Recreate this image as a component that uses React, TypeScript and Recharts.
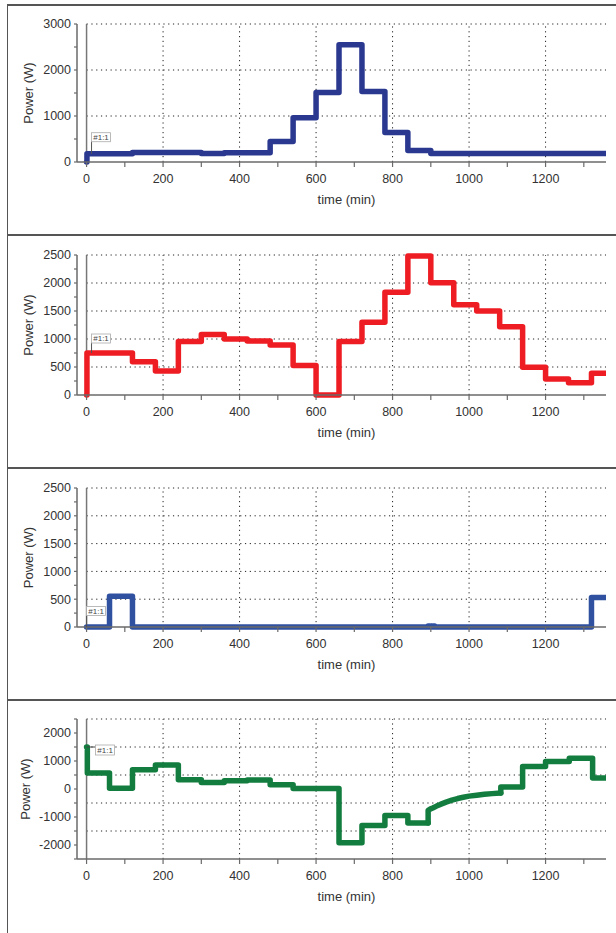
import React from 'react';
import { LineChart, Line, XAxis, YAxis, ReferenceLine, ReferenceDot } from 'recharts';

// ---------- shared axis data ----------
const xTicks = [0, 100, 200, 300, 400, 500, 600, 700, 800, 900, 1000, 1100, 1200, 1300];
const xGridValues = [200, 400, 600, 800, 1000, 1200];
const X_MIN = -25;
const X_MAX = 1358;

// ---------- panel 1 (navy) ----------
const p1Time = [0, 1, 120, 300, 360, 480, 540, 600, 660, 720, 780, 840, 900, 1358];
const p1Power = [0, 180, 205, 185, 200, 445, 960, 1510, 2550, 1530, 640, 250, 185, 185];
const p1Ticks = [0, 500, 1000, 1500, 2000, 2500, 3000];
const p1Grid = [1000, 2000, 3000];

// ---------- panel 2 (red) ----------
const p2Time = [0, 1, 120, 180, 240, 300, 360, 420, 480, 540, 600, 660, 720, 780, 840, 900, 960, 1020, 1080, 1140, 1200, 1260, 1320, 1358];
const p2Power = [0, 750, 595, 430, 955, 1080, 1000, 965, 895, 525, 0, 955, 1300, 1835, 2480, 2005, 1610, 1500, 1220, 495, 285, 220, 390, 390];
const p2Ticks = [0, 250, 500, 750, 1000, 1250, 1500, 1750, 2000, 2250, 2500];
const p2Grid = [500, 1000, 1500, 2000, 2500];

// ---------- panel 3 (blue) ----------
const p3Time = [0, 60, 120, 890, 893, 898, 905, 910, 1320, 1358];
const p3Power = [0, 555, 0, 0, 20, 0, 18, 0, 530, 530];
const p3Ticks = [0, 250, 500, 750, 1000, 1250, 1500, 1750, 2000, 2250, 2500];
const p3Grid = [500, 1000, 1500, 2000, 2500];

// ---------- panel 4 (green) ----------
const p4StepTime = [0, 2, 60, 120, 180, 240, 300, 360, 420, 480, 540, 660, 720, 780, 840, 893];
const p4StepPower = [1500, 570, 30, 685, 860, 330, 235, 295, 320, 150, 20, -1920, -1305, -950, -1210, -1210];
const p4CurveTime = [893, 893, 898, 905, 915, 925, 940, 955, 970, 985, 1000, 1020, 1040, 1060, 1083];
const p4CurvePower = [-1210, -760, -720, -680, -610, -550, -470, -400, -340, -295, -255, -220, -190, -165, -140];
const p4EndTime = [1083, 1083, 1140, 1200, 1262, 1323, 1358];
const p4EndPower = [-140, 70, 805, 980, 1100, 390, 390];
const p4Ticks = [-2500, -2000, -1500, -1000, -500, 0, 500, 1000, 1500, 2000, 2500];
const p4Grid = [2500, 1500, 500, -500, -1500];

const rows = (t: number[], p: number[]) => t.map((v, i) => ({ t: v, p: p[i] }));

const FONT = '"Liberation Sans", Arial, Helvetica, sans-serif';
const AXIS = '#6a6a6a';
const TXT = '#333';

const TagShape = (props: any) => {
  const { cx, cy, gap, side } = props;
  if (cx == null || cy == null) return null;
  if (side) {
    return (
      <g>
        <line x1={cx} y1={cy} x2={cx + 9} y2={cy} stroke="#444" strokeWidth={1} />
        <rect x={cx + 9} y={cy - 2} width={19} height={10} fill="#fff" stroke="#aaa" strokeWidth={0.8} />
        <text x={cx + 18.5} y={cy + 6} fontSize={8} textAnchor="middle" fill="#444">#1:1</text>
      </g>
    );
  }
  return (
    <g>
      <line x1={cx} y1={cy} x2={cx} y2={cy - gap} stroke="#555" strokeWidth={1} />
      <rect x={cx} y={cy - gap - 9} width={19} height={9} fill="#fff" stroke="#aaa" strokeWidth={0.8} />
      <text x={cx + 9.5} y={cy - gap - 1.8} fontSize={8} textAnchor="middle" fill="#444">#1:1</text>
    </g>
  );
};

const XLabel = (props: any) => {
  const vb = props.viewBox || {};
  return (
    <text
      x={vb.x + vb.width / 2 + 5}
      y={vb.y + vb.height - 8}
      textAnchor="middle"
      fill={TXT}
      fontSize={13}
    >
      time (min)
    </text>
  );
};

type Series = { data: { t: number; p: number }[]; type: 'stepAfter' | 'linear' };

type PanelProps = {
  top: number;
  marginTop: number;
  plotHeight: number;
  yDomain: [number, number];
  yTicks: number[];
  labelEvery: number;
  grid: number[];
  series: Series[];
  color: string;
  tag: { x: number; y: number; gap?: number; side?: boolean };
  yLabelX: number;
};

const Panel = (pp: PanelProps) => {
  const height = pp.marginTop + pp.plotHeight + 50;
  return (
    <div style={{ position: 'absolute', left: 0, top: pp.top, width: 616, height }}>
      <LineChart
        width={616}
        height={height}
        margin={{ top: pp.marginTop, right: 10, bottom: 0, left: 0 }}
      >
        <XAxis
          type="number"
          dataKey="t"
          domain={[X_MIN, X_MAX]}
          allowDataOverflow
          ticks={xTicks}
          interval={0}
          height={50}
          tickSize={5}
          tickMargin={7}
          tickFormatter={(v: number) => (v % 200 === 0 ? String(v) : '')}
          tick={{ fill: TXT, fontSize: 12.5 }}
          stroke={AXIS}
          axisLine={{ stroke: AXIS, strokeWidth: 1.5 }}
          tickLine={{ stroke: AXIS, strokeWidth: 1.2 }}
          label={<XLabel />}
        />
        <YAxis
          type="number"
          dataKey="p"
          domain={pp.yDomain}
          ticks={pp.yTicks}
          interval={0}
          width={77}
          tickSize={3}
          tickMargin={3}
          tickFormatter={(v: number) => (v % pp.labelEvery === 0 ? String(v) : '')}
          tick={{ fill: TXT, fontSize: 12.5 }}
          axisLine={{ stroke: AXIS, strokeWidth: 1.5 }}
          tickLine={{ stroke: AXIS, strokeWidth: 1.2 }}
          label={{
            value: 'Power (W)',
            angle: -90,
            position: 'insideLeft',
            offset: pp.yLabelX,
            fill: TXT,
            fontSize: 13,
            style: { textAnchor: 'middle' },
          }}
        />
        {xGridValues.map((v) => (
          <ReferenceLine key={'vx' + v} x={v} stroke="#222" strokeWidth={1} strokeDasharray="1.2 3.6" />
        ))}
        {pp.grid.map((v) => (
          <ReferenceLine
            key={'hy' + v}
            segment={[{ x: 0, y: v }, { x: X_MAX, y: v }]}
            stroke="#222"
            strokeWidth={1}
            strokeDasharray="1.2 3.6"
          />
        ))}
        <ReferenceLine x={0} stroke="#777" strokeWidth={1.5} />
        {pp.series.map((s, i) => (
          <Line
            key={i}
            data={s.data}
            dataKey="p"
            type={s.type}
            stroke={pp.color}
            strokeWidth={5.5}
            strokeLinecap="round"
            strokeLinejoin="round"
            dot={false}
            activeDot={false}
            isAnimationActive={false}
          />
        ))}
        <ReferenceDot
          x={pp.tag.x}
          y={pp.tag.y}
          r={0}
          shape={(p: any) => <TagShape {...p} gap={pp.tag.gap} side={pp.tag.side} />}
        />
      </LineChart>
    </div>
  );
};

const frameStyle = (top: number, height: number): React.CSSProperties => ({
  position: 'absolute',
  left: 7,
  top,
  width: 640,
  height,
  borderTop: '2px solid #555',
  borderLeft: '1.5px solid #555',
  boxSizing: 'border-box',
});

export default function App() {
  return (
    <div
      style={{
        position: 'absolute',
        left: 0,
        top: 0,
        width: 616,
        height: 933,
        overflow: 'hidden',
        background: '#fff',
        fontFamily: FONT,
      }}
    >
      <div style={frameStyle(4, 231)} />
      <div style={frameStyle(234, 234)} />
      <div style={frameStyle(467, 233)} />
      <div style={frameStyle(699, 240)} />

      <Panel
        top={4}
        marginTop={20}
        plotHeight={138}
        yDomain={[0, 3000]}
        yTicks={p1Ticks}
        labelEvery={1000}
        grid={p1Grid}
        series={[{ data: rows(p1Time, p1Power), type: 'stepAfter' }]}
        color="#2A3890"
        tag={{ x: 13, y: 180, gap: 12 }}
        yLabelX={28}
      />
      <Panel
        top={235}
        marginTop={20}
        plotHeight={140}
        yDomain={[0, 2500]}
        yTicks={p2Ticks}
        labelEvery={500}
        grid={p2Grid}
        series={[{ data: rows(p2Time, p2Power), type: 'stepAfter' }]}
        color="#EE1D23"
        tag={{ x: 13, y: 750, gap: 10 }}
        yLabelX={28}
      />
      <Panel
        top={468}
        marginTop={20}
        plotHeight={139}
        yDomain={[0, 2500]}
        yTicks={p3Ticks}
        labelEvery={500}
        grid={p3Grid}
        series={[{ data: rows(p3Time, p3Power), type: 'stepAfter' }]}
        color="#3050A0"
        tag={{ x: 0, y: 0, gap: 11.5 }}
        yLabelX={28}
      />
      <Panel
        top={700}
        marginTop={19}
        plotHeight={140}
        yDomain={[-2500, 2500]}
        yTicks={p4Ticks}
        labelEvery={1000}
        grid={p4Grid}
        series={[
          { data: rows(p4StepTime, p4StepPower), type: 'stepAfter' },
          { data: rows(p4CurveTime, p4CurvePower), type: 'linear' },
          { data: rows(p4EndTime, p4EndPower), type: 'stepAfter' },
        ]}
        color="#127D3E"
        tag={{ x: 0, y: 1500, side: true }}
        yLabelX={25}
      />
    </div>
  );
}
